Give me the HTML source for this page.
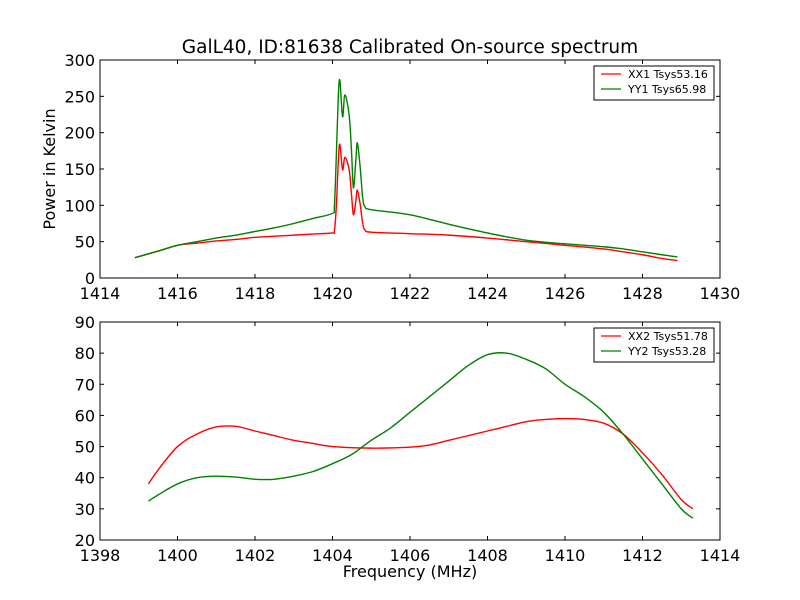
<!DOCTYPE html>
<html><head><meta charset="utf-8"><style>
body{margin:0;background:#fff;}
svg{display:block;font-family:"DejaVu Sans","Liberation Sans",sans-serif;}
</style></head><body>
<svg id="c" width="800" height="600" viewBox="0 0 800 600"></svg>
<script>
// Top panel data (frequency MHz, Kelvin)
const topXX1F=[1414.9,1415.5,1416,1416.5,1417,1417.5,1418,1418.5,1419,1419.5,1420,1420.05,1420.1,1420.15,1420.19,1420.26,1420.32,1420.43,1420.49,1420.54,1420.6,1420.64,1420.71,1420.78,1420.84,1421,1422,1423,1424,1425,1426,1427,1427.5,1428,1428.5,1428.9];
const topXX1V=[28,37,45,48,51,53,56,57.5,59,60.5,62,65,100,160,184,149,166,149,115,87,105,121,103,75,66,63,61,59,55,50,45,40,36,32,27,24];
const topYY1F=[1414.9,1415.5,1416,1416.5,1417,1417.5,1418,1418.5,1419,1419.5,1420,1420.05,1420.1,1420.15,1420.19,1420.26,1420.32,1420.43,1420.49,1420.54,1420.6,1420.64,1420.71,1420.78,1420.84,1421,1422,1423,1424,1425,1426,1427,1427.5,1428,1428.5,1428.9];
const topYY1V=[28,37,45,50,55,59,64,69,75,82,89,100,170,250,272,222,252,224,175,124,160,186,155,110,98,94,87,74,62,52,47,43,40,36,32,29];
// Bottom panel data
const botXX2F=[1399.25,1399.5,1400,1400.5,1401,1401.5,1402,1402.5,1403,1403.5,1404,1405,1406,1406.5,1407,1407.5,1408,1408.5,1409,1409.5,1410,1410.5,1411,1411.5,1412,1412.5,1413,1413.3];
const botXX2V=[38,42.5,50,54,56.3,56.5,55,53.5,52,51,50,49.5,49.8,50.5,52,53.5,55,56.5,58,58.7,59,58.7,57.5,54,48,41,33,30];
const botYY2F=[1399.25,1399.5,1400,1400.5,1401,1401.5,1402,1402.5,1403,1403.5,1404,1404.5,1405,1405.5,1406,1406.5,1407,1407.5,1408,1408.5,1409,1409.5,1410,1410.5,1411,1411.5,1412,1412.5,1413,1413.3];
const botYY2V=[32.5,34.5,38,40,40.5,40.2,39.5,39.5,40.5,42,44.5,47.5,52,56,61,66,71,76,79.5,80,78,75,70,66,61,54,46,38,30,27];
const topXTicks=[1414,1416,1418,1420,1422,1424,1426,1428,1430];
const topYTicks=[0,50,100,150,200,250,300];
const botXTicks=[1398,1400,1402,1404,1406,1408,1410,1412,1414];
const botYTicks=[20,30,40,50,60,70,80,90];

const NS='http://www.w3.org/2000/svg';
const svg=document.getElementById('c');
function mk(tag,attrs,parent){const e=document.createElementNS(NS,tag);for(const k in attrs)e.setAttribute(k,attrs[k]);(parent||svg).appendChild(e);return e;}
function smooth(P){
  let d='M'+P[0][0].toFixed(2)+','+P[0][1].toFixed(2);
  for(let i=0;i<P.length-1;i++){
    const p0=P[i-1]||P[i],p1=P[i],p2=P[i+1],p3=P[i+2]||P[i+1];
    const c1x=p1[0]+(p2[0]-p0[0])/6,c1y=p1[1]+(p2[1]-p0[1])/6;
    const c2x=p2[0]-(p3[0]-p1[0])/6,c2y=p2[1]-(p3[1]-p1[1])/6;
    d+=' C'+c1x.toFixed(2)+','+c1y.toFixed(2)+' '+c2x.toFixed(2)+','+c2y.toFixed(2)+' '+p2[0].toFixed(2)+','+p2[1].toFixed(2);
  }
  return d;
}

function panel(p){
  const g=mk('g',{});
  
  
  const sx=v=>p.x0+(v-p.xmin)/(p.xmax-p.xmin)*(p.x1-p.x0);
  const sy=v=>p.y1-(v-p.ymin)/(p.ymax-p.ymin)*(p.y1-p.y0);
  p.series.forEach(s=>{
    const P=s.f.map((f,i)=>[sx(f),sy(s.v[i])]);
    const pl=mk('path',{d:smooth(P),fill:'none',stroke:s.color,'stroke-width':1.4,'stroke-linejoin':'round'},g);
    
    
  });
  const fr=mk('rect',{x:p.x0,y:p.y0,width:p.x1-p.x0,height:p.y1-p.y0,fill:'none',stroke:'#000','stroke-width':1},g);
  
  
  p.xt.forEach(t=>{
    const x=sx(t);
    mk('line',{x1:x,x2:x,y1:p.y1,y2:p.y1-4,stroke:'#000'},g);
    mk('line',{x1:x,x2:x,y1:p.y0,y2:p.y0+4,stroke:'#000'},g);
    const tx=mk('text',{x:x,y:p.y1+21,'text-anchor':'middle','font-size':16},g);
    tx.textContent=t;
    
    
  });
  p.yt.forEach(t=>{
    const y=sy(t);
    mk('line',{x1:p.x0,x2:p.x0+4,y1:y,y2:y,stroke:'#000'},g);
    mk('line',{x1:p.x1,x2:p.x1-4,y1:y,y2:y,stroke:'#000'},g);
    const tx=mk('text',{x:p.x0-5,y:y+6,'text-anchor':'end','font-size':16},g);
    tx.textContent=t;
    
    
  });
  const lg=mk('g',{},g);
  
  
  mk('rect',{x:594,y:p.y0+6,width:120,height:34,fill:'#fff',stroke:'#000','stroke-width':1},lg);
  p.series.forEach((s,i)=>{
    const y=p.y0+14+i*15;
    mk('line',{x1:601,x2:621,y1:y,y2:y,stroke:s.color,'stroke-width':1.3},lg);
    const tx=mk('text',{x:628,y:y+4,'font-size':11},lg);
    tx.textContent=s.label;
    
    
  });
}
panel({name:'top-panel',x0:100,x1:720,y0:60,y1:278,xmin:1414,xmax:1430,ymin:0,ymax:300,xt:topXTicks,yt:topYTicks,
  series:[{id:'xx1-line',f:topXX1F,v:topXX1V,color:'#ff0000',label:'XX1 Tsys53.16'},{id:'yy1-line',f:topYY1F,v:topYY1V,color:'#008000',label:'YY1 Tsys65.98'}]});
panel({name:'bottom-panel',x0:100,x1:720,y0:322,y1:540,xmin:1398,xmax:1414,ymin:20,ymax:90,xt:botXTicks,yt:botYTicks,
  series:[{id:'xx2-line',f:botXX2F,v:botXX2V,color:'#ff0000',label:'XX2 Tsys51.78'},{id:'yy2-line',f:botYY2F,v:botYY2V,color:'#008000',label:'YY2 Tsys53.28'}]});
let t=mk('text',{x:410,y:53,'text-anchor':'middle','font-size':18.5});
t.textContent='GalL40, ID:81638 Calibrated On-source spectrum';


t=mk('text',{x:0,y:0,'text-anchor':'middle','font-size':16,transform:'translate(55,169) rotate(-90)'});
t.textContent='Power in Kelvin';


t=mk('text',{x:410,y:577,'text-anchor':'middle','font-size':16});
t.textContent='Frequency (MHz)';


</script>
</body></html>
